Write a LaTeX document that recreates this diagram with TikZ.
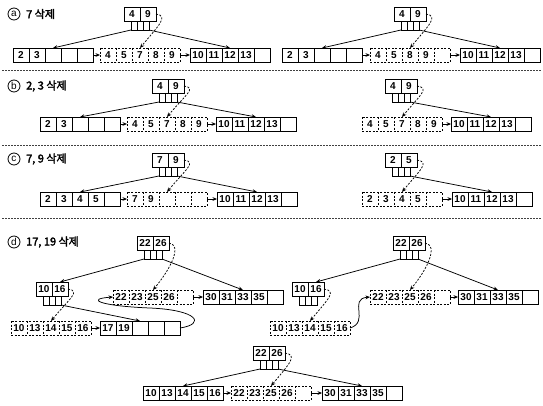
\documentclass[tikz,border=0pt]{standalone}
\usepackage{fontspec}
\setmainfont{Liberation Sans}
\newfontfamily\krfont[FakeBold=2.5]{Noto Sans CJK KR}
\usetikzlibrary{arrows.meta,calc}
\tikzset{
  cellnode/.style={minimum width=16pt, minimum height=14pt, inner sep=0pt, outer sep=0pt, font=\fontsize{10}{10}\selectfont\bfseries},
  keycell/.style={cellnode, draw, line width=0.75pt},
  ptrcell/.style={draw, minimum width=6pt, minimum height=9pt, inner sep=0pt, outer sep=0pt, line width=0.75pt},
  solidbox/.style={line width=0.75pt},
  dashbox/.style={line width=0.75pt, dash pattern=on 2pt off 1.5pt},
  arr/.style={-{Stealth[length=4.5pt,width=3.8pt]}, line width=0.75pt},
  darr/.style={arr, dash pattern=on 2pt off 1.5pt},
  sepline/.style={line width=0.7pt, dash pattern=on 2pt off 1pt, black!75},
  circ/.style={circle, draw, line width=0.8pt, minimum size=12pt, inner sep=0pt, font=\fontsize{10}{10}\selectfont},
  ttl/.style={anchor=west, inner sep=0pt, font=\krfont\fontsize{11}{11}\selectfont},
}
\newcommand\leafrow[5]{%
  \foreach \v [count=\i] in {#5} {\node[cellnode] (#1-\i) at ({#2+(\i-0.5)*16},{#3+7}) {\v};}
  \draw[#4] (#1-1.north west) rectangle (#1-5.south east);
  \foreach \j in {1,...,4} {\draw[#4] (#1-\j.north east) -- (#1-\j.south east);}
}
\newcommand\keynode[5]{%
  \node[keycell] (#1-1) at ({#2+8},{#3+7}) {#4};
  \node[keycell] (#1-2) at ({#2+24},{#3+7}) {#5};
  \node[ptrcell] (#1-p1) at ({#2+10},{#3+18.5}) {};
  \node[ptrcell] (#1-p2) at ({#2+16},{#3+18.5}) {};
  \node[ptrcell] (#1-p3) at ({#2+22},{#3+18.5}) {};
}
\newcommand\dcurve[2]{\draw[darr] (#1) .. controls ($(#1)+(13,2)$) and ($(#2)+(19,-23)$) .. (#2);}
\begin{document}
\begin{tikzpicture}[x=1pt,y=-1pt]
\useasboundingbox (0,0) rectangle (543,405);
% ---------- titles
\node[circ] (ca) at (14,14) {a};  \node[ttl] (ta) at (26,14) {7 삭제};
\node[circ] (cb) at (14,86) {b};  \node[ttl] (tb) at (26,86) {2, 3 삭제};
\node[circ] (cc) at (14,159) {c}; \node[ttl] (tc) at (26,159) {7, 9 삭제};
\node[circ] (cd) at (14,242) {d}; \node[ttl] (td) at (26,242) {17, 19 삭제};
% ---------- separators
\coordinate (s1a) at (2,70);  \coordinate (s1b) at (541,70);
\coordinate (s2a) at (2,145); \coordinate (s2b) at (541,145);
\coordinate (s3a) at (2,218); \coordinate (s3b) at (541,218);
\draw[sepline] (s1a) -- (s1b);
\draw[sepline] (s2a) -- (s2b);
\draw[sepline] (s3a) -- (s3b);
% ========== (a) left
\keynode{ar}{124}{7}{4}{9}
\leafrow{aa}{13}{48}{solidbox}{2,3,{},{},{}}
\leafrow{ab}{100}{48}{dashbox}{4,5,7,8,9}
\leafrow{ac}{190}{48}{solidbox}{10,11,12,13,{}}
\draw[arr] (ar-p1.south west) -- (aa-3.north);
\draw[arr] (ar-p3.south east) -- (ac-3.north);
\dcurve{ar-2.east}{ab-3.north}
\draw[arr] (aa-5.east) -- (ab-1.west);
\draw[arr] (ab-5.east) -- (ac-1.west);
% ========== (a) right
\keynode{Ar}{394}{7}{4}{9}
\leafrow{Aa}{282}{48}{solidbox}{2,3,{},{},{}}
\leafrow{Ab}{370}{48}{dashbox}{4,5,8,9,{}}
\leafrow{Ac}{460}{48}{solidbox}{10,11,12,13,{}}
\draw[arr] (Ar-p1.south west) -- (Aa-3.north);
\draw[arr] (Ar-p3.south east) -- (Ac-3.north);
\dcurve{Ar-2.east}{Ab-3.north}
\draw[arr] (Aa-5.east) -- (Ab-1.west);
\draw[arr] (Ab-5.east) -- (Ac-1.west);
% ========== (b) left
\keynode{br}{152}{79}{4}{9}
\leafrow{ba}{40}{117}{solidbox}{2,3,{},{},{}}
\leafrow{bb}{127}{117}{dashbox}{4,5,7,8,9}
\leafrow{bc}{216}{117}{solidbox}{10,11,12,13,{}}
\draw[arr] (br-p1.south west) -- (ba-3.north);
\draw[arr] (br-p3.south east) -- (bc-3.north);
\dcurve{br-2.east}{bb-3.north}
\draw[arr] (ba-5.east) -- (bb-1.west);
\draw[arr] (bb-5.east) -- (bc-1.west);
% ========== (b) right
\keynode{Br}{385}{79}{4}{9}
\leafrow{Bb}{362}{117}{dashbox}{4,5,7,8,9}
\leafrow{Bc}{451}{117}{solidbox}{10,11,12,13,{}}
\draw[arr] (Br-p3.south east) -- (Bc-3.north);
\dcurve{Br-2.east}{Bb-3.north}
\draw[arr] (Bb-5.east) -- (Bc-1.west);
% ========== (c) left
\keynode{cr}{152}{153}{7}{9}
\leafrow{ca}{40}{192}{solidbox}{2,3,4,5,{}}
\leafrow{cb}{127}{192}{dashbox}{7,9,{},{},{}}
\leafrow{cc}{217}{192}{solidbox}{10,11,12,13,{}}
\draw[arr] (cr-p1.south west) -- (ca-3.north);
\draw[arr] (cr-p3.south east) -- (cc-3.north);
\dcurve{cr-2.east}{cb-3.north}
\draw[arr] (ca-5.east) -- (cb-1.west);
\draw[arr] (cb-5.east) -- (cc-1.west);
% ========== (c) right
\keynode{Cr}{385}{153}{2}{5}
\leafrow{Cb}{362}{192}{dashbox}{2,3,4,5,{}}
\leafrow{Cc}{452}{192}{solidbox}{10,11,12,13,{}}
\draw[arr] (Cr-p3.south east) -- (Cc-3.north);
\dcurve{Cr-2.east}{Cb-3.north}
\draw[arr] (Cb-5.east) -- (Cc-1.west);
% ========== (d) left
\keynode{dr}{137}{236}{22}{26}
\keynode{dn}{36}{282}{10}{16}
\leafrow{dc}{113}{290}{dashbox}{22,23,25,26,{}}
\leafrow{dd}{203}{290}{solidbox}{30,31,33,35,{}}
\leafrow{da}{11}{321}{dashbox}{10,13,14,15,16}
\leafrow{db}{100}{321}{solidbox}{17,19,{},{},{}}
\draw[arr] (dr-p1.south west) -- (dn-2.north);
\draw[arr] (dr-p3.south east) -- (dd-3.north);
\dcurve{dr-2.east}{dc-3.north}
\dcurve{dn-2.east}{da-3.north}
\draw[arr] (dn-p3.south east) -- (db-3.north);
\draw[arr] (da-5.east) -- (db-1.west);
\draw[arr] (dc-5.east) -- (dd-1.west);
\coordinate (dm) at ($(dc-2.south)+(13,4)$);
\draw[arr] (db-5.east) .. controls ($(db-5.east)+(26,-4)$) and ($(dm)+(48,2)$) .. (dm)
  .. controls ($(dm)+(-50,-2)$) and ($(dc-1.west)+(-28,2)$) .. (dc-1.west);
% ========== (d) right
\keynode{Dr}{393}{236}{22}{26}
\keynode{Dn}{292}{282}{10}{16}
\leafrow{Dc}{370}{290}{dashbox}{22,23,25,26,{}}
\leafrow{Dd}{458}{290}{solidbox}{30,31,33,35,{}}
\leafrow{Da}{270}{321}{dashbox}{10,13,14,15,16}
\draw[arr] (Dr-p1.south west) -- (Dn-2.north);
\draw[arr] (Dr-p3.south east) -- (Dd-3.north);
\dcurve{Dr-2.east}{Dc-3.north}
\dcurve{Dn-2.east}{Da-3.north}
\draw[arr] (Dc-5.east) -- (Dd-1.west);
\draw[arr] (Da-5.east) .. controls ($(Da-5.east)+(20,-6)$) and ($(Dc-1.west)+(-22,2)$) .. (Dc-1.west);
% ========== (d) bottom
\keynode{Er}{253}{346}{22}{26}
\leafrow{Ea}{143}{386}{solidbox}{10,13,14,15,16}
\leafrow{Eb}{231}{386}{dashbox}{22,23,25,26,{}}
\leafrow{Ec}{322}{386}{solidbox}{30,31,33,35,{}}
\draw[arr] (Er-p1.south west) -- (Ea-3.north);
\draw[arr] (Er-p3.south east) -- (Ec-3.north);
\dcurve{Er-2.east}{Eb-3.north}
\draw[arr] (Ea-5.east) -- (Eb-1.west);
\draw[arr] (Eb-5.east) -- (Ec-1.west);
\end{tikzpicture}
\end{document}
